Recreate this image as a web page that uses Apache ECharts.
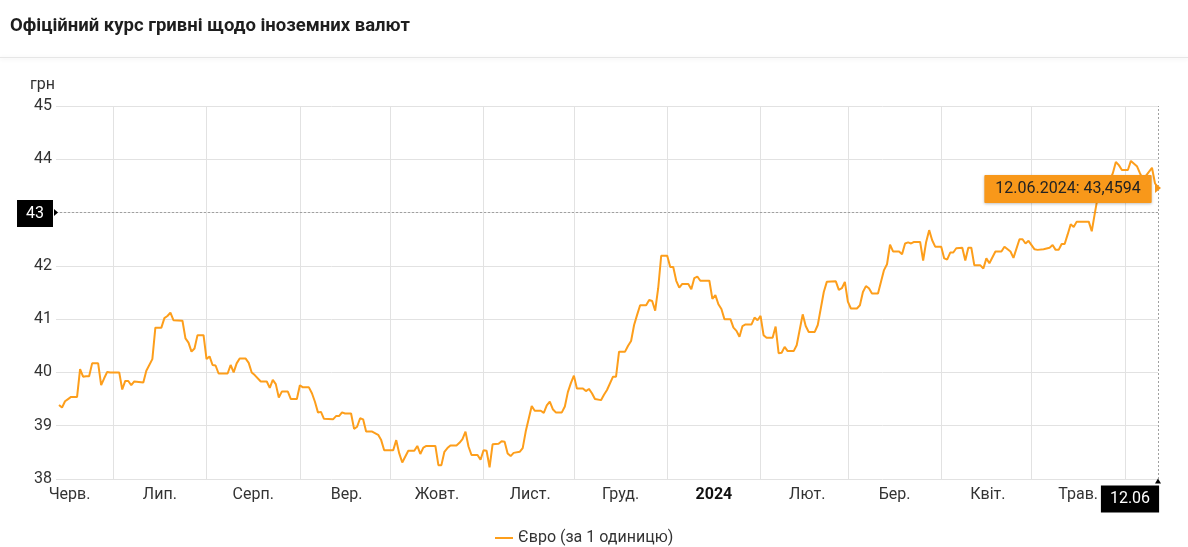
<!DOCTYPE html>
<html>
<head>
<meta charset="utf-8">
<script src="https://cdn.jsdelivr.net/npm/echarts@6/dist/echarts.min.js"></script>
<style>
html,body{margin:0;padding:0;background:#fff;}
#chart{width:1188px;height:547px;}
</style>
</head>
<body>
<div id="chart"></div>
<script>
// ---------- data ----------
const chartTitle = 'Офіційний курс гривні щодо іноземних валют';
const seriesName = 'Євро (за 1 одиницю)';
const unitName = 'грн';
const monthNames = ['Січ.','Лют.','Бер.','Квіт.','Трав.','Черв.','Лип.','Серп.','Вер.','Жовт.','Лист.','Груд.'];
const rangeStart = '2023-06-12';
const rangeEnd = '2024-06-12';
const yMin = 38, yMax = 45, yStep = 1;
const crossValue = 43;
const lastRate = 43.4594;
const lastLabel = '12.06.2024: 43,4594';
const lastShort = '12.06';

const dates = [
'2023-06-13','2023-06-14','2023-06-15','2023-06-16','2023-06-17','2023-06-19','2023-06-20','2023-06-21','2023-06-22','2023-06-23','2023-06-24','2023-06-26','2023-06-27','2023-06-28','2023-06-29','2023-06-30',
'2023-07-03','2023-07-04','2023-07-05','2023-07-06','2023-07-07','2023-07-08','2023-07-11','2023-07-12','2023-07-14','2023-07-15','2023-07-17','2023-07-18','2023-07-19','2023-07-20','2023-07-21','2023-07-24','2023-07-25','2023-07-26','2023-07-27','2023-07-28','2023-07-29','2023-07-31',
'2023-08-01','2023-08-02','2023-08-03','2023-08-04','2023-08-05','2023-08-08','2023-08-09','2023-08-10','2023-08-11','2023-08-12','2023-08-14','2023-08-15','2023-08-16','2023-08-17','2023-08-19','2023-08-21','2023-08-22','2023-08-23','2023-08-24','2023-08-25','2023-08-26','2023-08-28','2023-08-29','2023-08-31',
'2023-09-01','2023-09-02','2023-09-04','2023-09-05','2023-09-06','2023-09-07','2023-09-08','2023-09-09','2023-09-12','2023-09-13','2023-09-14','2023-09-15','2023-09-16','2023-09-18','2023-09-19','2023-09-20','2023-09-21','2023-09-22','2023-09-23','2023-09-25','2023-09-27','2023-09-28','2023-09-29',
'2023-10-02','2023-10-03','2023-10-04','2023-10-05','2023-10-07','2023-10-09','2023-10-10','2023-10-11','2023-10-12','2023-10-13','2023-10-16','2023-10-17','2023-10-18','2023-10-19','2023-10-20','2023-10-21','2023-10-23','2023-10-24','2023-10-25','2023-10-26','2023-10-27','2023-10-28','2023-10-30','2023-10-31',
'2023-11-01','2023-11-02','2023-11-03','2023-11-04','2023-11-06','2023-11-07','2023-11-08','2023-11-09','2023-11-10','2023-11-11','2023-11-13','2023-11-14','2023-11-15','2023-11-17','2023-11-18','2023-11-20','2023-11-21','2023-11-22','2023-11-23','2023-11-24','2023-11-25','2023-11-27','2023-11-28','2023-11-29','2023-11-30',
'2023-12-01','2023-12-02','2023-12-04','2023-12-05','2023-12-06','2023-12-07','2023-12-08','2023-12-10','2023-12-11','2023-12-12','2023-12-14','2023-12-15','2023-12-16','2023-12-18','2023-12-19','2023-12-20','2023-12-21','2023-12-22','2023-12-23','2023-12-25','2023-12-26','2023-12-27','2023-12-28','2023-12-29','2023-12-30',
'2024-01-01','2024-01-02','2024-01-03','2024-01-04','2024-01-05','2024-01-06','2024-01-08','2024-01-09','2024-01-10','2024-01-11','2024-01-12','2024-01-15','2024-01-16','2024-01-17','2024-01-18','2024-01-19','2024-01-20','2024-01-22','2024-01-23','2024-01-24','2024-01-25','2024-01-26','2024-01-27','2024-01-29','2024-01-30','2024-01-31',
'2024-02-01','2024-02-02','2024-02-03','2024-02-05','2024-02-06','2024-02-07','2024-02-08','2024-02-09','2024-02-10','2024-02-12','2024-02-13','2024-02-14','2024-02-15','2024-02-16','2024-02-17','2024-02-19','2024-02-20','2024-02-21','2024-02-22','2024-02-23','2024-02-26','2024-02-27','2024-02-28','2024-02-29',
'2024-03-01','2024-03-02','2024-03-04','2024-03-05','2024-03-06','2024-03-07','2024-03-08','2024-03-09','2024-03-11','2024-03-12','2024-03-13','2024-03-14','2024-03-15','2024-03-16','2024-03-18','2024-03-19','2024-03-20','2024-03-21','2024-03-22','2024-03-23','2024-03-25','2024-03-26','2024-03-27','2024-03-28','2024-03-29','2024-03-30',
'2024-04-01','2024-04-02','2024-04-03','2024-04-04','2024-04-05','2024-04-06','2024-04-08','2024-04-09','2024-04-10','2024-04-11','2024-04-12','2024-04-14','2024-04-15','2024-04-16','2024-04-17','2024-04-19','2024-04-21','2024-04-22','2024-04-24','2024-04-25','2024-04-27','2024-04-28','2024-04-29','2024-04-30',
'2024-05-02','2024-05-03','2024-05-05','2024-05-07','2024-05-08','2024-05-09','2024-05-10','2024-05-11','2024-05-12','2024-05-13','2024-05-14','2024-05-15','2024-05-16','2024-05-20','2024-05-21','2024-05-22','2024-05-23','2024-05-24','2024-05-27','2024-05-28','2024-05-29','2024-05-30','2024-05-31',
'2024-06-02','2024-06-03','2024-06-05','2024-06-06','2024-06-07','2024-06-10','2024-06-11','2024-06-12'
];
const rates = [
39.39,39.34,39.46,39.50,39.54,39.54,40.06,39.92,39.93,39.93,40.17,40.17,39.76,39.89,40.01,40.00,
40.00,39.68,39.84,39.84,39.76,39.83,39.81,40.03,40.25,40.84,40.84,41.02,41.06,41.12,40.98,40.97,40.64,40.56,40.39,40.45,40.70,40.70,
40.25,40.30,40.14,40.13,39.98,39.98,40.14,40.00,40.17,40.26,40.26,40.18,40.00,39.95,39.83,39.83,39.71,39.86,39.78,39.53,39.64,39.64,39.50,39.50,
39.76,39.72,39.72,39.61,39.45,39.25,39.26,39.13,39.12,39.18,39.18,39.25,39.23,39.23,38.94,38.98,39.14,39.12,38.89,38.89,38.83,38.73,38.54,
38.54,38.73,38.48,38.31,38.53,38.53,38.62,38.47,38.59,38.62,38.62,38.26,38.26,38.51,38.58,38.63,38.63,38.68,38.75,38.89,38.61,38.45,38.45,38.36,
38.54,38.53,38.22,38.65,38.66,38.71,38.70,38.48,38.43,38.49,38.51,38.58,38.89,39.37,39.28,39.28,39.24,39.38,39.45,39.31,39.25,39.25,39.36,39.63,39.80,
39.94,39.70,39.70,39.65,39.69,39.61,39.50,39.48,39.58,39.67,39.92,39.92,40.39,40.39,40.50,40.59,40.89,41.08,41.26,41.26,41.36,41.34,41.16,41.58,42.19,
42.19,41.98,41.98,41.72,41.59,41.66,41.66,41.56,41.77,41.80,41.72,41.72,41.38,41.45,41.28,41.19,41.00,41.00,40.84,40.78,40.67,40.87,40.90,40.90,41.03,40.98,
41.06,40.70,40.65,40.65,40.86,40.36,40.37,40.48,40.40,40.40,40.51,40.80,41.09,40.87,40.76,40.76,40.89,41.20,41.51,41.70,41.71,41.55,41.58,41.70,
41.33,41.20,41.20,41.26,41.51,41.62,41.58,41.48,41.48,41.70,41.92,42.03,42.40,42.27,42.27,42.22,42.42,42.44,42.42,42.45,42.45,42.10,42.45,42.67,42.48,42.36,
42.36,42.14,42.12,42.25,42.25,42.33,42.34,42.10,42.34,42.34,42.01,42.01,41.95,42.14,42.05,42.27,42.27,42.36,42.27,42.15,42.50,42.50,42.42,42.47,
42.31,42.30,42.31,42.34,42.39,42.30,42.30,42.41,42.41,42.59,42.78,42.73,42.83,42.83,42.65,42.98,43.30,43.24,43.60,43.74,43.95,43.89,43.80,
43.80,43.97,43.87,43.74,43.62,43.84,43.55,43.4594
];

// ---------- chart ----------
function toTime(s){ const p = s.split('-'); return new Date(+p[0], +p[1]-1, +p[2]).getTime(); }
const DAY = 86400000;
const tStart = toTime(rangeStart), tEnd = toTime(rangeEnd);
const HALF_MONTH = 15.5 * DAY;

const lineColor = '#fd9e1b';
const tipColor = '#f8981a';
const gridColor = '#e2e2e2';
const textColor = '#333';
const font = 'Roboto';

const chart = echarts.init(document.getElementById('chart'), null, {renderer:'canvas'});
chart.setOption({
  animation: false,
  backgroundColor: '#fff',
  textStyle: {fontFamily: font},
  title: {
    text: chartTitle, left: 5, top: 12,
    textStyle: {fontSize: 18.5, fontWeight: 'bold', color: '#1e1e1e', fontFamily: font}
  },
  graphic: [{
    type: 'rect', left: 0, top: 57, silent: true,
    shape: {width: 1188, height: 1},
    style: {fill: '#e6e6e6', shadowBlur: 4, shadowColor: 'rgba(0,0,0,0.12)', shadowOffsetY: 1}
  }],
  legend: {
    left: 490, top: 525,
    icon: 'rect', itemWidth: 18, itemHeight: 2, itemGap: 10,
    textStyle: {fontSize: 16, color: textColor, fontFamily: font},
    data: [{name: seriesName, itemStyle: {color: lineColor}}]
  },
  grid: {left: 56, right: 30, top: 106, bottom: 68, containLabel: false, show: false},
  xAxis: [{
    type: 'time', min: tStart, max: tEnd, position: 'bottom',
    splitNumber: 12, maxInterval: 31 * DAY, minInterval: 28 * DAY,
    axisLine: {show: false}, axisTick: {show: false}, axisLabel: {show: false},
    splitLine: {show: true, showMinLine: false, showMaxLine: false, lineStyle: {color: gridColor, width: 1}}
  }, {
    type: 'time', min: tStart - HALF_MONTH, max: tEnd - HALF_MONTH, position: 'bottom',
    splitNumber: 12, maxInterval: 31 * DAY, minInterval: 28 * DAY,
    axisLine: {show: false}, axisTick: {show: false}, splitLine: {show: false},
    axisLabel: {
      show: true, margin: 8, fontSize: 16, color: textColor, fontFamily: font,
      showMinLabel: false, showMaxLabel: false,
      formatter: function (v) {
        const d = new Date(v);
        const m = d.getMonth();
        return m === 0 ? '{y|' + d.getFullYear() + '}' : monthNames[m];
      },
      rich: {y: {fontSize: 16, fontWeight: 'bold', color: '#111', fontFamily: font}}
    }
  }],
  yAxis: {
    type: 'value', min: yMin, max: yMax, interval: yStep,
    name: unitName, nameLocation: 'end', nameGap: 13,
    nameTextStyle: {fontSize: 16, color: textColor, align: 'right', padding: [0, 1, 0, 0], fontFamily: font},
    axisLine: {show: false}, axisTick: {show: false},
    axisLabel: {fontSize: 16, color: textColor, margin: 4, fontFamily: font},
    splitLine: {show: true, lineStyle: {color: gridColor, width: 1}}
  },
  series: [{
    name: seriesName, type: 'line', xAxisIndex: 0,
    data: dates.map((d, i) => [d, rates[i]]),
    showSymbol: false, symbol: 'none',
    lineStyle: {color: lineColor, width: 2},
    itemStyle: {color: lineColor},
    z: 3,
    markLine: {
      silent: true, symbol: 'none', animation: false,
      lineStyle: {type: [2, 2], color: '#a0a0a0', width: 1},
      label: {show: false},
      emphasis: {disabled: true},
      data: [{yAxis: crossValue}, {xAxis: tEnd}]
    },
    markPoint: {
      silent: true, animation: false,
      data: [
        {coord: [tEnd, lastRate], symbol: 'triangle', symbolRotate: -90, symbolSize: [10, 6],
         itemStyle: {color: tipColor}, label: {show: false}},
        {coord: [tEnd, lastRate], symbol: 'rect', symbolSize: 1, itemStyle: {color: 'rgba(0,0,0,0)'},
         label: {show: true, position: 'inside', offset: [-90, 1], formatter: lastLabel,
                 fontSize: 16, color: '#222', fontFamily: font,
                 backgroundColor: tipColor, padding: [6, 11, 6, 11], borderRadius: 1,
                 shadowBlur: 3, shadowColor: 'rgba(0,0,0,0.25)', shadowOffsetY: 1}},
        {coord: [tStart, crossValue], symbol: 'triangle', symbolRotate: -90, symbolSize: [7, 4],
         itemStyle: {color: '#000'}, label: {show: false}},
        {coord: [tStart, crossValue], symbol: 'rect', symbolSize: 1, itemStyle: {color: 'rgba(0,0,0,0)'},
         label: {show: true, position: 'inside', offset: [-21, 1], formatter: String(crossValue),
                 fontSize: 16, color: '#fff', fontFamily: font,
                 backgroundColor: '#000', padding: [6, 9, 5, 9]}},
        {coord: [tEnd, yMin], symbol: 'triangle', symbolSize: [6, 5], symbolOffset: [0, 2],
         itemStyle: {color: '#000'}, label: {show: false}},
        {coord: [tEnd, yMin], symbol: 'rect', symbolSize: 1, itemStyle: {color: 'rgba(0,0,0,0)'},
         label: {show: true, position: 'inside', offset: [-28, 20], formatter: lastShort,
                 fontSize: 16, color: '#fff', fontFamily: font,
                 backgroundColor: '#000', padding: [6, 9, 5, 9]}}
      ]
    }
  }]
});
</script>
</body>
</html>
